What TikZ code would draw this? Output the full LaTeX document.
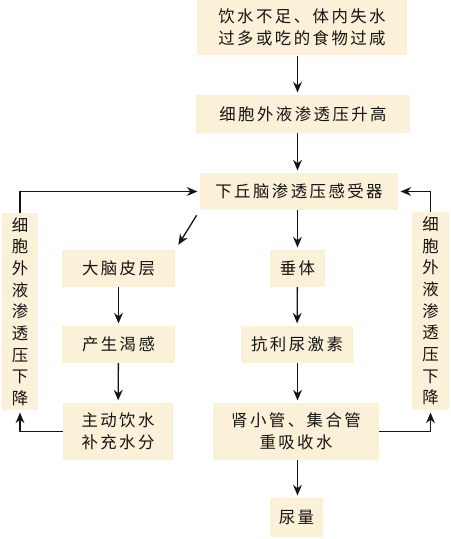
\documentclass[tikz,border=0pt]{standalone}
\usepackage{fontspec}
\usepackage{xcolor}
\usepackage{tikz}
\usetikzlibrary{arrows.meta}
\newfontfamily\cjk[LetterSpace=15]{Noto Sans CJK SC}
\definecolor{BoxFill}{HTML}{FBF0D8}
\definecolor{FlowLine}{HTML}{141414}

\tikzset{
  box/.style={fill=BoxFill, inner sep=0pt, align=center, text=FlowLine,
    font=\cjk\fontsize{14}{18.5}\selectfont},
  flow/.style={draw=FlowLine, line width=1.1pt,
    -{Stealth[length=9pt,width=7.5pt]}, shorten >=2pt},
}

\begin{document}
\begin{tikzpicture}[x=0.03cm,y=-0.03cm]
\path[use as bounding box] (0,0) rectangle (450,539);
% main chain
\node[box, minimum width=6.3cm, minimum height=1.65cm] (cause) at (302,27.5) {饮水不足、体内失水\\过多或吃的食物过咸};
\node[box, minimum width=6.39cm, minimum height=1.14cm] (rise) at (303,114) {细胞外液渗透压升高};
\node[box, minimum width=5.94cm, minimum height=1.11cm] (recep) at (299,191.5) {下丘脑渗透压感受器};
% left branch
\node[box, minimum width=3.39cm, minimum height=1.11cm] (cortex) at (118.5,268.5) {大脑皮层};
\node[box, minimum width=3.39cm, minimum height=1.11cm] (thirst) at (118.5,344.5) {产生渴感};
\node[box, minimum width=3.3cm, minimum height=1.71cm] (drink) at (118,431.5) {主动饮水\\补充水分};
% right branch
\node[box, minimum width=1.65cm, minimum height=1.11cm] (pit) at (297.5,268.5) {垂体};
\node[box, minimum width=3.36cm, minimum height=1.11cm] (adh) at (297,344.5) {抗利尿激素};
\node[box, minimum width=4.98cm, minimum height=1.71cm] (tubule) at (296,431.5) {肾小管、集合管\\重吸收水};
\node[box, minimum width=1.59cm, minimum height=1.17cm] (urine) at (296.5,517.5) {尿量};
% feedback boxes
\node[box, minimum width=1.08cm, minimum height=5.91cm] (leftdrop) at (20,311.5) {细\\胞\\外\\液\\渗\\透\\压\\下\\降};
\node[box, minimum width=1.11cm, minimum height=5.94cm] (rightdrop) at (430.5,311) {细\\胞\\外\\液\\渗\\透\\压\\下\\降};

\draw[flow, shorten <=1pt] (cause.south -| pit) -- (rise.north -| pit);
\draw[flow] (rise.south -| pit) -- (recep.north -| pit);
\draw[flow, shorten <=5pt, shorten >=5pt] (recep.south west) -- (cortex.north east);
\draw[flow] (recep.south -| pit) -- (pit);
\draw[flow] (cortex) -- (thirst);
\draw[flow] (thirst) -- (drink);
\draw[flow] (pit) -- (adh);
\draw[flow] (adh.south -| pit) -- (tubule.north -| pit);
\draw[flow] (tubule.south -| pit) -- (urine.north -| pit);
% feedback loops
\draw[flow] (leftdrop.north) |- (recep.west);
\draw[flow] (rightdrop.north) |- (recep.east);
\draw[flow] (drink.west) -| (leftdrop.south);
\draw[flow] (tubule.east) -| (rightdrop.south);
\end{tikzpicture}
\end{document}
